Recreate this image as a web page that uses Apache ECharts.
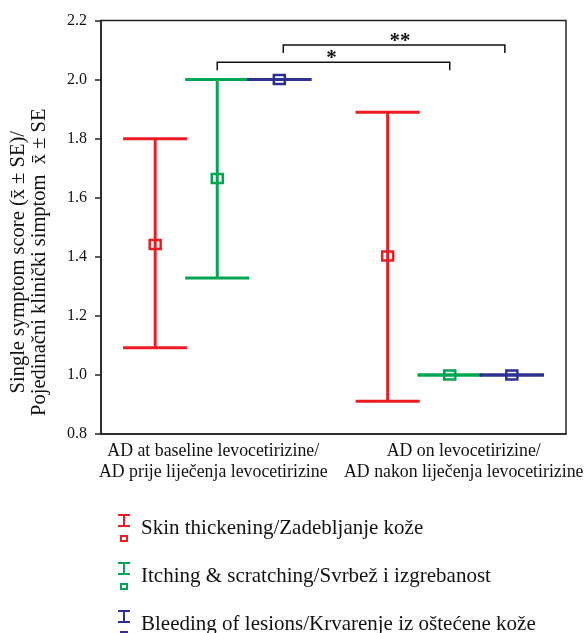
<!DOCTYPE html>
<html><head><meta charset="utf-8">
<script src="https://cdn.jsdelivr.net/npm/echarts@6/dist/echarts.min.js"></script>
<style>html,body{margin:0;padding:0;background:#fff}#c{width:588px;height:633px}</style>
</head><body><div id="c"></div>
<script>
// ---- data ----
const categories = [
  'AD at baseline levocetirizine/\nAD prije liječenja levocetirizine',
  'AD on levocetirizine/\nAD nakon liječenja levocetirizine'
];
const seriesNames = [
  'Skin thickening/Zadebljanje kože',
  'Itching & scratching/Svrbež i izgrebanost',
  'Bleeding of lesions/Krvarenje iz oštećene kože'
];
const skinMean = [1.442, 1.403];
const skinLow  = [1.092, 0.911];
const skinHigh = [1.800, 1.889];
const itchMean = [1.665, 1.000];
const itchLow  = [1.328, 1.000];
const itchHigh = [2.000, 1.000];
const bleedMean = [2.000, 1.000];
const bleedLow  = [2.000, 1.000];
const bleedHigh = [2.000, 1.000];
const yMin = 0.8, yMax = 2.2, yStep = 0.2;
const bracketFrom = [0, 0];
const bracketTo = [1, 1];
const bracketLevels = [2.059, 2.117];
const bracketLabels = ['*', '**'];

// ---- styling ----
const FONT = '"Liberation Serif", "Times New Roman", serif';
const COLORS = ['#ED1C24', '#00A651', '#2E3192'];
const OFFSETS = [-0.267, 0, 0.267];
const CAP_FRAC = 0.138;
const BRK_OFF = [[0, 0], [0.284, 0.237]];
const LEGEND_ICON = 'path://M0,0H12V2H0Z M5,0H7V12H5Z M0,11H12V13H0Z M2,21H10V28H2Z M4,23V26H8V23Z';
const LABEL_STYLE = { fontSize: 17.8, lineHeight: 21, fontFamily: FONT, color: '#111' };

function makeData(mean, low, high) {
  return mean.map((m, i) => [i, m, low[i], high[i]]);
}
function errRender(off, color) {
  return function (params, api) {
    const cat = api.value(0);
    const band = api.size([1, 0])[0];
    const pm = api.coord([cat, api.value(1)]);
    const yLow = api.coord([cat, api.value(2)])[1];
    const yHigh = api.coord([cat, api.value(3)])[1];
    const x = pm[0] + off * band;
    const hw = CAP_FRAC * band;
    const st = { stroke: color, lineWidth: 3, fill: null };
    return {
      type: 'group', children: [
        { type: 'line', shape: { x1: x, y1: yHigh, x2: x, y2: yLow }, style: st },
        { type: 'line', shape: { x1: x - hw, y1: yHigh, x2: x + hw, y2: yHigh }, style: st },
        { type: 'line', shape: { x1: x - hw, y1: yLow, x2: x + hw, y2: yLow }, style: st },
        { type: 'rect', shape: { x: x - 5.5, y: pm[1] - 4.5, width: 11, height: 9 },
          style: { stroke: color, lineWidth: 2.5, fill: 'rgba(0,0,0,0)' } }
      ]
    };
  };
}
const seriesData = [
  makeData(skinMean, skinLow, skinHigh),
  makeData(itchMean, itchLow, itchHigh),
  makeData(bleedMean, bleedLow, bleedHigh)
];
const series = seriesNames.map((name, k) => ({
  name, type: 'custom', data: seriesData[k],
  encode: { x: 0, y: [1, 2, 3] },
  itemStyle: { color: COLORS[k] },
  renderItem: errRender(OFFSETS[k], COLORS[k]),
  clip: false, z: 3
}));
series.push({
  name: 'significance', type: 'custom',
  data: bracketLevels.map((lv, i) => [bracketFrom[i], bracketTo[i], lv]),
  encode: { x: [0, 1], y: 2 },
  clip: false, z: 4,
  renderItem: function (params, api) {
    const i = params.dataIndex;
    const band = api.size([1, 0])[0];
    const y = api.coord([0, api.value(2)])[1];
    const x1 = api.coord([api.value(0), yMin])[0] + BRK_OFF[i][0] * band;
    const x2 = api.coord([api.value(1), yMin])[0] + BRK_OFF[i][1] * band;
    const drop = 8;
    return {
      type: 'group', children: [
        { type: 'polyline', shape: { points: [[x1, y + drop], [x1, y], [x2, y], [x2, y + drop]] },
          style: { stroke: '#111', lineWidth: 1.5, fill: null } },
        { type: 'text', x: (x1 + x2) / 2 + (i === 1 ? 6 : -2), y: y + 7,
          style: { text: bracketLabels[i], align: 'center', verticalAlign: 'bottom',
                   fontSize: 21, fontWeight: 'bold', fontFamily: FONT, fill: '#111' } }
      ]
    };
  }
});

const chart = echarts.init(document.getElementById('c'), null, { renderer: 'canvas' });
chart.setOption({
  animation: false,
  backgroundColor: '#fff',
  grid: { left: 101, top: 20.5, right: 22, bottom: 199, show: true, borderColor: '#222', borderWidth: 1.5 },
  xAxis: {
    type: 'category', data: categories, boundaryGap: true,
    axisLine: { lineStyle: { color: '#222', width: 1.5 } },
    axisTick: { alignWithLabel: true, length: 5, lineStyle: { color: '#222', width: 1.5 } },
    axisLabel: Object.assign({
      interval: 0, margin: 7,
      formatter: (v, idx) => v.split('\n').map(s => '{c' + idx + '|' + s + '}').join('\n'),
      rich: {
        c0: Object.assign({ padding: [0, 8, 0, 0] }, LABEL_STYLE),
        c1: Object.assign({ padding: [0, 0, 0, 28] }, LABEL_STYLE)
      }
    }, LABEL_STYLE),
    splitLine: { show: false }
  },
  yAxis: {
    type: 'value', min: yMin, max: yMax, interval: yStep,
    name: 'Single symptom score (x̄ ± SE)/\nPojedinačni klinički simptom  x̄ ± SE',
    nameLocation: 'middle', nameRotate: 90, nameGap: 51,
    nameTextStyle: { fontSize: 20.5, lineHeight: 21, fontFamily: FONT, color: '#111', padding: [0, 70, 0, 0] },
    axisLine: { show: true, lineStyle: { color: '#222', width: 1.5 } },
    axisTick: { show: true, length: 6, lineStyle: { color: '#222', width: 1.5 } },
    axisLabel: { margin: 14, fontSize: 16, fontFamily: FONT, color: '#111', formatter: v => v.toFixed(1) },
    splitLine: { show: false }
  },
  legend: {
    orient: 'vertical', left: 113, top: 509, height: 300, itemWidth: 12, itemHeight: 28, itemGap: 20,
    icon: LEGEND_ICON, data: seriesNames, selectedMode: false,
    textStyle: { fontSize: 21, fontFamily: FONT, color: '#111', padding: [0, 0, 0, 6] }
  },
  series
});
</script></body></html>
